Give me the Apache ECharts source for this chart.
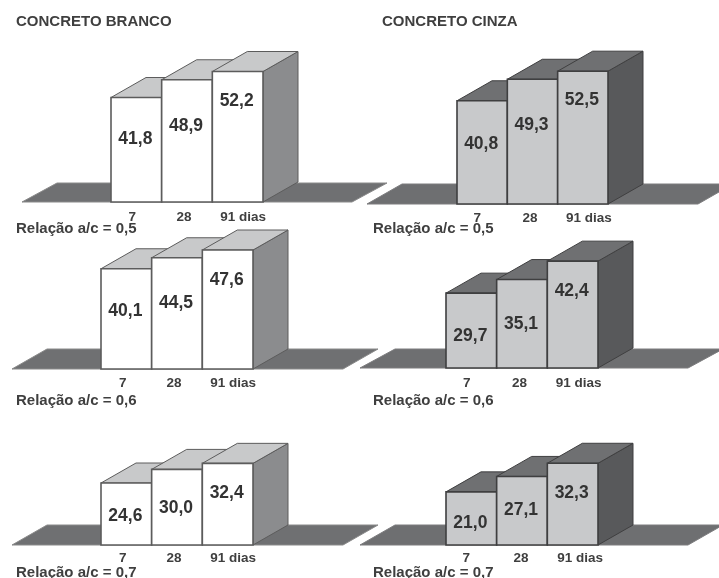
<!DOCTYPE html>
<html lang="pt">
<head>
<meta charset="utf-8">
<title>Concreto branco e cinza</title>
<script src="https://cdn.jsdelivr.net/npm/echarts@6/dist/echarts.min.js"></script>
<style>
html,body{margin:0;padding:0;background:#fff}
#chart{width:719px;height:578px}
</style>
</head>
<body>
<div id="chart"></div>
<script>
// Compressive strength by age, for each water/cement ratio
const categories = ['7', '28', '91 dias'];
const branco05 = [41.8, 48.9, 52.2];
const branco06 = [40.1, 44.5, 47.6];
const branco07 = [24.6, 30.0, 32.4];
const cinza05 = [40.8, 49.3, 52.5];
const cinza06 = [29.7, 35.1, 42.4];
const cinza07 = [21.0, 27.1, 32.3];
const titleBranco = 'CONCRETO BRANCO';
const titleCinza = 'CONCRETO CINZA';
const captions = ['Relação a/c = 0,5', 'Relação a/c = 0,6', 'Relação a/c = 0,7'];

const AXIS_MAX = 60;
const DEPTH = [35, -20];
const FONT = '"Liberation Sans", Arial, sans-serif';
const INK = '#3f3f3f';

const whiteTheme = { front: '#ffffff', top: '#c8c9ca', side: '#8b8c8e', edge: '#5c5c5c', floor: '#6f7072', floorEdge: '#8a8a8a' };
const greyTheme = { front: '#c8c9cb', top: '#6f7072', side: '#58595b', edge: '#3f3f40', floor: '#6e6f71', floorEdge: '#7d7d7f' };

// Layout of each panel: bar band, baseline, pixels per unit, floor span, label placement
const panels = [
  { values: branco05, theme: whiteTheme, left: 111, width: 152, base: 202, scale: 2.5, floor: [22, 352, 19], drops: [41.5, 46, 29.5], shift: [-4, -3, 5.5], caption: 0, capX: 16, capY: 228, labelGap: 8 },
  { values: cinza05, theme: greyTheme, left: 457, width: 151, base: 204, scale: 2.53, floor: [367, 698, 20], drops: [43, 46, 29.3], shift: [-5, -2.5, 6], caption: 0, capX: 373, capY: 228, labelGap: 7 },
  { values: branco06, theme: whiteTheme, left: 101, width: 152, base: 369, scale: 2.5, floor: [12, 343, 20], drops: [42, 45, 30], shift: [-3.5, -3, 5.5], caption: 1, capX: 16, capY: 400, labelGap: 7 },
  { values: cinza06, theme: greyTheme, left: 446, width: 152, base: 368, scale: 2.52, floor: [360, 688, 19], drops: [42.7, 45, 30], shift: [-4.5, -2.5, 6], caption: 1, capX: 373, capY: 400, labelGap: 8 },
  { values: branco07, theme: whiteTheme, left: 101, width: 152, base: 545, scale: 2.52, floor: [12, 343, 20], drops: [33, 38.3, 30.3], shift: [-3.5, -3, 5.5], caption: 2, capX: 16, capY: 572, labelGap: 6 },
  { values: cinza07, theme: greyTheme, left: 446, width: 152, base: 545, scale: 2.53, floor: [360, 688, 20], drops: [31.3, 34, 30.3], shift: [-5, -1, 7.5], caption: 2, capX: 373, capY: 572, labelGap: 6 }
];

const fmt = v => v.toFixed(1).replace('.', ',');

function poly(points, fill, stroke, lineWidth) {
  return { type: 'polygon', shape: { points }, style: { fill, stroke, lineWidth, lineJoin: 'miter' } };
}

// Draws one prism: side and top faces behind the front face, then the value text
function prism(panel) {
  const t = panel.theme;
  return function (params, api) {
    const i = api.value(0);
    const v = api.value(1);
    const top = api.coord([i, v]);
    const bottom = api.coord([i, 0]);
    const w = api.size([1, 0])[0];
    const x0 = top[0] - w / 2;
    const x1 = top[0] + w / 2;
    const [dx, dy] = DEPTH;
    return {
      type: 'group',
      children: [
        poly([[x1, top[1]], [x1 + dx, top[1] + dy], [x1 + dx, bottom[1] + dy], [x1, bottom[1]]], t.side, t.edge, 1),
        poly([[x0, top[1]], [x0 + dx, top[1] + dy], [x1 + dx, top[1] + dy], [x1, top[1]]], t.top, t.edge, 1),
        poly([[x0, top[1]], [x1, top[1]], [x1, bottom[1]], [x0, bottom[1]]], t.front, t.edge, 1.6),
        {
          type: 'text',
          style: {
            text: fmt(v),
            x: top[0] - 1,
            y: top[1] + panel.drops[i],
            align: 'center',
            verticalAlign: 'middle',
            font: 'bold 17.5px ' + FONT,
            fill: '#333333'
          }
        }
      ]
    };
  };
}

const grids = [], xAxes = [], yAxes = [], series = [], floors = [], titles = [];

panels.forEach((p, n) => {
  grids.push({ left: p.left, width: p.width, top: p.base - AXIS_MAX * p.scale, height: AXIS_MAX * p.scale });

  // Tick labels sit a little off the band centres, so each gets its own padding
  const rich = {};
  p.shift.forEach((s, i) => {
    rich['t' + i] = {
      fontFamily: FONT, fontWeight: 'bold', fontSize: 13.5, color: INK,
      padding: s < 0 ? [0, -2 * s, 0, 0] : [0, 0, 0, 2 * s]
    };
  });
  xAxes.push({
    gridIndex: n,
    type: 'category',
    data: categories,
    axisLine: { show: false },
    axisTick: { show: false },
    axisLabel: {
      interval: 0,
      margin: p.labelGap,
      formatter: (value, index) => '{t' + index + '|' + value + '}',
      rich
    }
  });
  yAxes.push({ gridIndex: n, type: 'value', show: false, min: 0, max: AXIS_MAX, splitLine: { show: false } });

  series.push({
    type: 'custom',
    xAxisIndex: n,
    yAxisIndex: n,
    z: 3,
    clip: false,
    renderItem: prism(p),
    encode: { x: 0, y: 1 },
    data: p.values.map((v, i) => [i, v])
  });

  const [fx0, fx1, fh] = p.floor;
  floors.push({
    type: 'polygon',
    z: 0,
    shape: { points: [[fx0, p.base], [fx1, p.base], [fx1 + DEPTH[0], p.base - fh], [fx0 + DEPTH[0], p.base - fh]] },
    style: { fill: p.theme.floor, stroke: p.theme.floorEdge, lineWidth: 1 }
  });

  titles.push({
    text: captions[p.caption],
    left: p.capX,
    top: p.capY - 7,
    padding: 0,
    textStyle: { fontFamily: FONT, fontWeight: 'bold', fontSize: 15, color: INK }
  });
});

[[titleBranco, 16], [titleCinza, 382]].forEach(([text, left]) => {
  titles.push({
    text,
    left,
    top: 14,
    padding: 0,
    textStyle: { fontFamily: FONT, fontWeight: 'bold', fontSize: 15, color: INK }
  });
});

const chart = echarts.init(document.getElementById('chart'), null, { renderer: 'canvas', width: 719, height: 578 });
chart.setOption({
  animation: false,
  backgroundColor: '#ffffff',
  title: titles,
  grid: grids,
  xAxis: xAxes,
  yAxis: yAxes,
  graphic: floors,
  series
});
</script>
</body>
</html>
